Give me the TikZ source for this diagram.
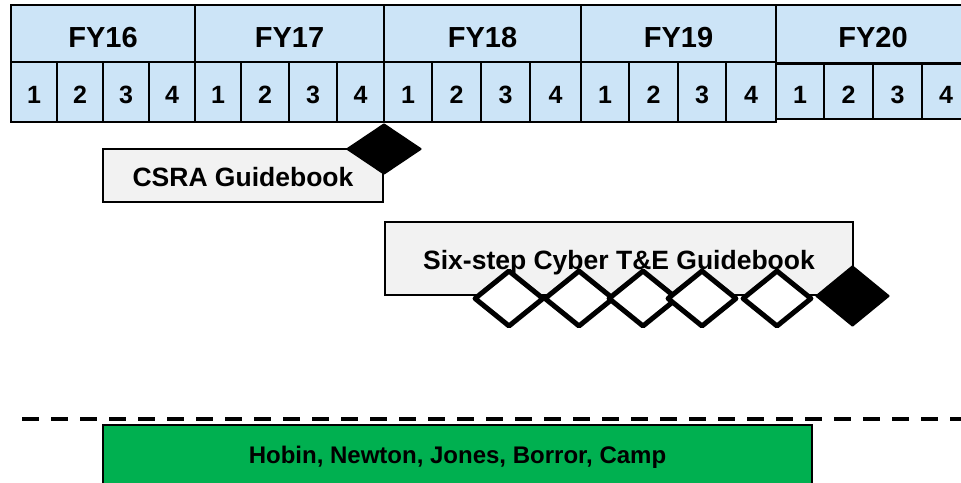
\documentclass[tikz,border=0pt]{standalone}
\usepackage{fontspec}
\setmainfont{Liberation Sans}
\usetikzlibrary{shapes.geometric}
\definecolor{hdrblue}{RGB}{204,228,247}
\definecolor{boxgray}{RGB}{242,242,242}
\definecolor{teamgreen}{RGB}{0,176,80}
\tikzset{
  yearcell/.style={draw=black, line width=2.5pt, fill=hdrblue, inner sep=0pt,
    font=\fontsize{29}{30}\selectfont\bfseries, text height=27pt, text depth=0pt},
  qcell/.style={draw=black, line width=2.5pt, fill=hdrblue, inner sep=0pt,
    font=\fontsize{25}{26}\selectfont\bfseries, text height=23pt, text depth=0pt},
  taskbox/.style={draw=black, line width=2pt, fill=boxgray, inner sep=0pt,
    font=\fontsize{26.5}{28}\selectfont\bfseries, text depth=0pt},
  teambox/.style={draw=black, line width=2pt, fill=teamgreen, inner sep=0pt,
    font=\fontsize{24}{25}\selectfont\bfseries, text height=17pt, text depth=0pt},
  wdiam/.style={diamond, draw=black, fill=white, line width=5pt, line join=round,
    inner sep=0pt, minimum width=70pt, minimum height=57pt},
  bdiam/.style={diamond, draw=black, fill=black, line width=2pt, line join=round,
    inner sep=0pt},
  dashline/.style={draw=black, line width=4.5pt, dash pattern=on 16.5pt off 12.5pt}
}
\begin{document}
\begin{tikzpicture}[x=1pt,y=-1pt]
\useasboundingbox (0,0) rectangle (961,482);
\clip (0,0) rectangle (961,482);
\fill[white] (0,0) rectangle (961,482);
% year row
\node[yearcell, minimum width=184pt, minimum height=57pt] (fy16) at (103,33.5) {FY16};
\node[yearcell, minimum width=189pt, minimum height=57pt] (fy17) at (289.5,33.5) {FY17};
\node[yearcell, minimum width=197pt, minimum height=57pt] (fy18) at (482.5,33.5) {FY18};
\node[yearcell, minimum width=195pt, minimum height=57pt] (fy19) at (678.5,33.5) {FY19};
\node[yearcell, minimum width=194pt, minimum height=58pt] (fy20) at (873,34) {FY20};
% quarter row
\foreach \a/\b/\lab/\nm in {11/57/1/q161, 57/103/2/q162, 103/149/3/q163, 149/195/4/q164,
  195/241/1/q171, 241/289/2/q172, 289/337/3/q173, 337/384/4/q174,
  384/432/1/q181, 432/481/2/q182, 481/530/3/q183, 530/581/4/q184,
  581/629/1/q191, 629/678/2/q192, 678/726/3/q193, 726/776/4/q194}
  \node[qcell, minimum width={(\b-\a)*1pt}, minimum height=60pt] (\nm) at ({(\a+\b)/2},92) {\lab};
\foreach \a/\b/\lab/\nm in {776/824/1/q201, 824/873/2/q202, 873/922/3/q203, 922/970/4/q204}
  \node[qcell, minimum width={(\b-\a)*1pt}, minimum height=55pt] (\nm) at ({(\a+\b)/2},91.5) {\lab};
% CSRA
\node[taskbox, minimum width=280pt, minimum height=53pt, text height=21pt] (csra) at (243,175.5) {CSRA Guidebook};
\node[bdiam, minimum width=74pt, minimum height=50pt] (csram) at (384,149) {};
% Six-step
\node[taskbox, minimum width=468pt, minimum height=73pt, text height=22pt] (six) at (619,258.5) {Six-step Cyber T\&E Guidebook};
\node[wdiam] (s1) at (509,298.5) {};
\node[wdiam] (s2) at (579,298.5) {};
\node[wdiam] (s3) at (643,298.5) {};
\node[wdiam] (s4) at (702,298.5) {};
\node[wdiam] (s5) at (777,298.5) {};
\node[bdiam, minimum width=73pt, minimum height=60pt] (s6) at (852.5,296) {};
% dashed divider
\coordinate (dl) at (22,419);
\coordinate (dr) at (975,419);
\draw[dashline] (dl) -- (dr);
% team
\node[teambox, minimum width=709pt, minimum height=60pt] (team) at (457.5,455) {Hobin, Newton, Jones, Borror, Camp};
\end{tikzpicture}
\end{document}
